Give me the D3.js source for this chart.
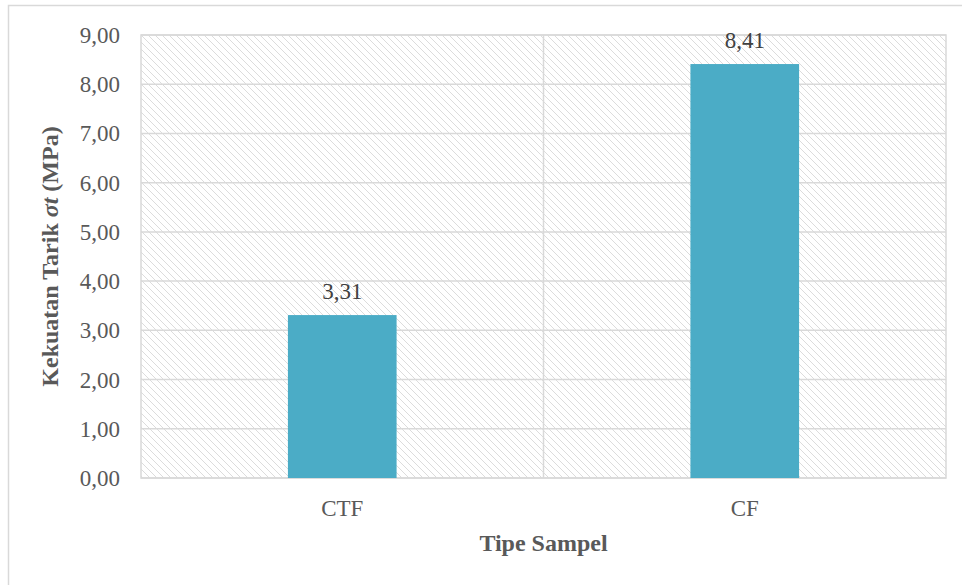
<!DOCTYPE html>
<html>
<head>
<meta charset="utf-8">
<script src="https://cdn.jsdelivr.net/npm/d3@7"></script>
<style>
    body { margin: 0; background: #fff; }
</style>
</head>
<body>
<div id="chart"></div>
<script>
var categories = ["CTF", "CF"]
var values = [3.31, 8.41]
var yTicks = [0, 1, 2, 3, 4, 5, 6, 7, 8, 9]

var margin = { left: 141, right: 16, top: 35, bottom: 107 }
var W = 962, H = 585
var width = W - margin.left - margin.right,
    height = H - margin.top - margin.bottom
var serif = "'Liberation Serif', 'Times New Roman', Times, serif"

var fmt = function(v){ return v.toFixed(2).replace(".", ",") }

var svg = d3.select("#chart")
    .append("svg")
        .attr("width", W)
        .attr("height", H)
        .attr("font-family", serif)

// outer frame
svg.append("rect")
    .attr("x", 8.5).attr("y", 5.5)
    .attr("width", W + 10).attr("height", H + 10)
    .attr("fill", "none")
    .attr("stroke", "#d9d9d9")
    .attr("stroke-width", 1.5)

var defs = svg.append("defs")
var pat = defs.append("pattern")
    .attr("id", "hatch")
    .attr("patternUnits", "userSpaceOnUse")
    .attr("width", 7).attr("height", 7)
pat.append("path")
    .attr("d", "M-1,-1 L8,8 M-1,6 L1,8 M6,-1 L8,1")
    .attr("stroke", "#dcdcdc")
    .attr("stroke-width", 1)

var g = svg.append("g")
    .attr("transform", "translate(" + margin.left + "," + margin.top + ")")

var x = d3.scaleBand()
    .domain(categories)
    .range([0, width])
    .paddingInner(0)
    .paddingOuter(0)

var y = d3.scaleLinear()
    .domain([0, 9])
    .range([height, 0])

// plot area background
g.append("rect")
    .attr("x", 0).attr("y", 0)
    .attr("width", width).attr("height", height)
    .attr("fill", "url(#hatch)")
    .attr("stroke", "#d9d9d9")
    .attr("stroke-width", 1.5)

// horizontal gridlines
g.selectAll(".hgrid")
    .data(yTicks)
    .enter()
    .append("line")
    .attr("class", "hgrid")
    .attr("x1", 0).attr("x2", width)
    .attr("y1", d => y(d)).attr("y2", d => y(d))
    .attr("stroke", "#d9d9d9")
    .attr("stroke-width", 1.5)

// vertical gridlines between categories
g.selectAll(".vgrid")
    .data(categories.slice(1))
    .enter()
    .append("line")
    .attr("class", "vgrid")
    .attr("x1", d => x(d)).attr("x2", d => x(d))
    .attr("y1", 0).attr("y2", height)
    .attr("stroke", "#d9d9d9")
    .attr("stroke-width", 1.5)

// bars
var barW = x.bandwidth() * 0.27
g.selectAll(".bar")
    .data(values)
    .enter()
    .append("rect")
    .attr("class", "bar")
    .attr("x", (d, i) => x(categories[i]) + x.bandwidth()/2 - barW/2)
    .attr("y", d => y(d))
    .attr("width", barW)
    .attr("height", d => height - y(d))
    .attr("fill", "#4bacc6")

// data labels
g.selectAll(".data-label")
    .data(values)
    .enter()
    .append("text")
    .attr("class", "data-label")
    .attr("x", (d, i) => x(categories[i]) + x.bandwidth()/2)
    .attr("y", d => y(d) - 16)
    .attr("text-anchor", "middle")
    .attr("font-size", 23)
    .attr("fill", "#404040")
    .text(d => fmt(d))

// y tick labels
g.selectAll(".ytick")
    .data(yTicks)
    .enter()
    .append("text")
    .attr("class", "ytick")
    .attr("x", -21)
    .attr("y", d => y(d))
    .attr("dy", "0.35em")
    .attr("text-anchor", "end")
    .attr("font-size", 23)
    .attr("fill", "#595959")
    .text(d => fmt(d))

// x tick labels
g.selectAll(".xtick")
    .data(categories)
    .enter()
    .append("text")
    .attr("class", "xtick")
    .attr("x", d => x(d) + x.bandwidth()/2)
    .attr("y", height + 38)
    .attr("text-anchor", "middle")
    .attr("font-size", 23)
    .attr("fill", "#595959")
    .text(d => d)

// axis titles
g.append("text")
    .attr("x", width/2)
    .attr("y", height + 73)
    .attr("text-anchor", "middle")
    .attr("font-size", 24)
    .attr("font-weight", "bold")
    .attr("fill", "#595959")
    .text("Tipe Sampel")

var yt = g.append("text")
    .attr("transform", "rotate(-90)")
    .attr("x", -height/2)
    .attr("y", -83)
    .attr("text-anchor", "middle")
    .attr("font-size", 24)
    .attr("font-weight", "bold")
    .attr("fill", "#595959")
yt.append("tspan").text("Kekuatan Tarik ")
yt.append("tspan").attr("font-style", "italic").text("σt")
yt.append("tspan").text(" (MPa)")
</script>
</body>
</html>
